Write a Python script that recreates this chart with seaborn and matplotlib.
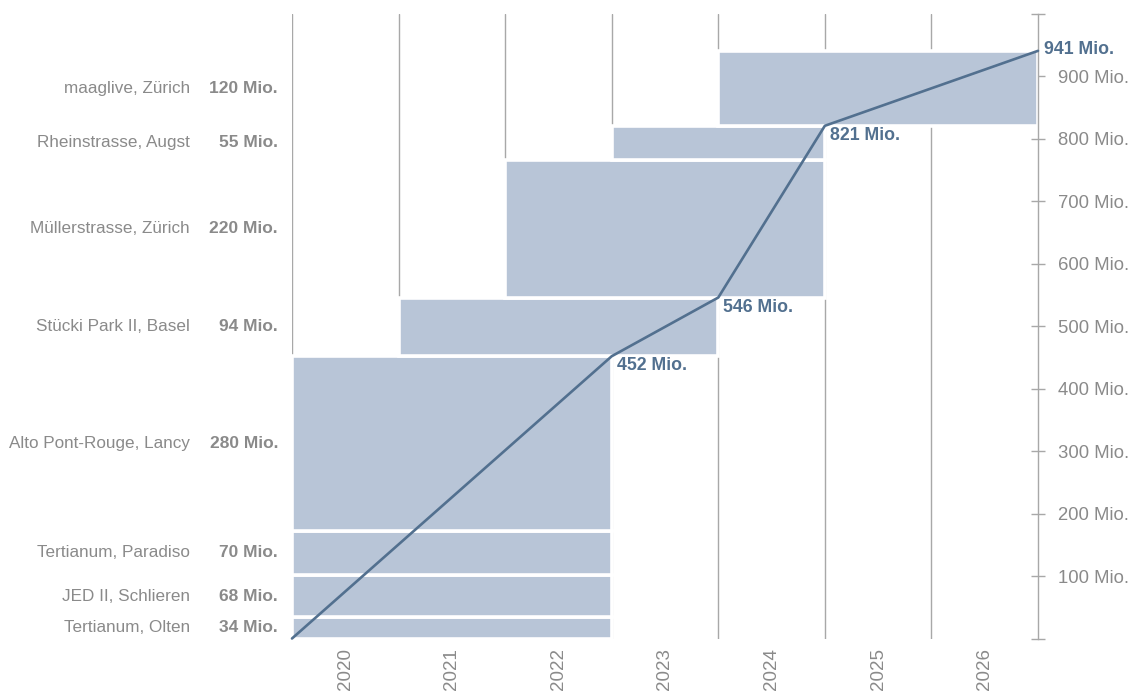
import numpy as np
import pandas as pd
import matplotlib
matplotlib.use("Agg")
import matplotlib.pyplot as plt
import matplotlib.transforms as mtransforms
import seaborn as sns

# ---- data ----
projects = ["Tertianum, Olten", "JED II, Schlieren", "Tertianum, Paradiso",
            "Alto Pont-Rouge, Lancy", "Stücki Park II, Basel",
            "Müllerstrasse, Zürich", "Rheinstrasse, Augst", "maaglive, Zürich"]
values = [34, 68, 70, 280, 94, 220, 55, 120]
start_years = [2020, 2020, 2020, 2020, 2021, 2022, 2023, 2024]
end_years = [2023, 2023, 2023, 2023, 2024, 2025, 2025, 2027]

cum_years = [2020, 2023, 2024, 2025, 2027]
cum_values = [0, 452, 546, 821, 941]
cum_labels = ["", "452 Mio.", "546 Mio.", "821 Mio.", "941 Mio."]

year_labels = ["2020", "2021", "2022", "2023", "2024", "2025", "2026"]
ytick_values = [0, 100, 200, 300, 400, 500, 600, 700, 800, 900, 1000]

# ---- style ----
sns.set_theme(style="white")
plt.rcParams["font.family"] = ["Liberation Sans", "DejaVu Sans"]

BAR = "#b8c5d7"
LINE = "#52708f"
GRID = "#a8a8a8"
TXT = "#8a8a8a"

fig = plt.figure(figsize=(11.31, 6.93), dpi=100)
ax = fig.add_axes([292 / 1131, 1 - 638.5 / 693, (1038 - 292) / 1131, (638.5 - 14) / 693])

df = pd.DataFrame({"project": projects, "value": values,
                   "start": start_years, "end": end_years})
df["bottom"] = df["value"].cumsum() - df["value"]
df["width"] = df["end"] - df["start"]

ax.bar(df["start"], df["value"], width=df["width"], bottom=df["bottom"],
       align="edge", color=BAR, edgecolor="white", linewidth=2.6, zorder=2)

line_df = pd.DataFrame({"year": cum_years, "value": cum_values})
sns.lineplot(data=line_df, x="year", y="value", ax=ax, color=LINE,
             linewidth=1.9, zorder=4, clip_on=False)

# cumulative annotations
for yr, v, lab in zip(cum_years, cum_values, cum_labels):
    if not lab:
        continue
    if yr == cum_years[-1]:
        ax.annotate(lab, (yr, v), xytext=(6, 1), textcoords="offset pixels",
                    ha="left", va="center", color=LINE, fontsize=12.8,
                    fontweight="bold", zorder=5, annotation_clip=False)
    else:
        ax.annotate(lab, (yr, v), xytext=(5, -1), textcoords="offset pixels",
                    ha="left", va="top", color=LINE, fontsize=12.8,
                    fontweight="bold", zorder=5)

# vertical gridlines at year boundaries
for yr in range(2020, 2027):
    ax.axvline(yr, color=GRID, linewidth=1.0, zorder=1)

ax.set_xlim(2020, 2027)
ax.set_ylim(0, 1000)

# x ticks (year labels centred in columns)
ax.set_xticks([y + 0.5 for y in range(2020, 2027)])
ax.set_xticklabels(year_labels, rotation=90, color=TXT, fontsize=13.5, va="top")
ax.tick_params(axis="x", length=0, pad=7)

# right axis
ax.yaxis.tick_right()
ax.set_yticks(ytick_values)
ax.set_yticklabels(["" if v in (0, 1000) else f"{v} Mio." for v in ytick_values],
                   color=TXT, fontsize=13.3)
ax.tick_params(axis="y", direction="inout", length=9.5, width=1.0,
               color=GRID, pad=10)
ax.set_xlabel("")
ax.set_ylabel("")

for s in ["top", "bottom", "left"]:
    ax.spines[s].set_visible(False)
ax.spines["right"].set_color(GRID)
ax.spines["right"].set_linewidth(1.0)

# left labels
trans = mtransforms.blended_transform_factory(fig.transFigure, ax.transData)
for name, v, b in zip(df["project"], df["value"], df["bottom"]):
    mid = b + v / 2
    ax.text(190 / 1131, mid, name, transform=trans, ha="right", va="center",
            color=TXT, fontsize=12.3)
    ax.text(278 / 1131, mid, f"{v} Mio.", transform=trans, ha="right",
            va="center", color="#8a8a8a", fontsize=12.5, fontweight="bold")

fig.savefig("out.png", dpi=100)
